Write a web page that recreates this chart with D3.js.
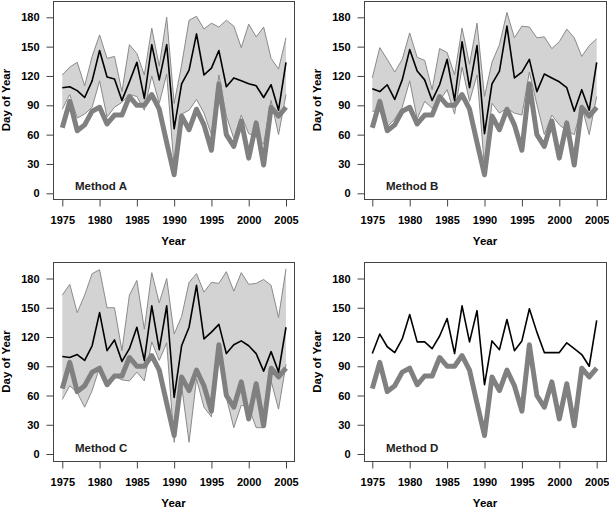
<!DOCTYPE html>
<html>
<head>
<meta charset="utf-8">
<script src="https://cdn.jsdelivr.net/npm/d3@7"></script>
<style>
  html, body { margin: 0; padding: 0; background: #fff; }
  svg { display: block; font-family: "Liberation Sans", Arial, sans-serif; }
</style>
</head>
<body>
<svg id="chart" width="609" height="508"></svg>
<script>
const years = [1975,1976,1977,1978,1979,1980,1981,1982,1983,1984,1985,1986,1987,1988,1989,1990,
               1991,1992,1993,1994,1995,1996,1997,1998,1999,2000,2001,2002,2003,2004,2005];
const xTicks = [1975,1980,1985,1990,1995,2000,2005];
const yTicks = [0,30,60,90,120,150,180];

const observed = [67,94,64,70,84,88,71,80,80,99,90,90,101,86,52,19,79,65,86,70,44,112,60,48,74,36,72,29,88,79,88];

const predA  = [108,109,105,98,115,146,119,117,95,114,134,97,152,116,152,66,112,126,163,121,128,146,109,118,115,112,110,98,111,85,134];
const upperA = [121,129,134,110,140,162,138,140,104,152,143,121,169,130,180,92,131,177,181,168,174,170,177,171,149,173,160,170,138,127,159];
const lowerA = [86,101,77,81,88,115,78,88,93,101,99,85,120,92,122,27,81,85,96,82,60,121,79,56,80,61,58,50,95,60,101];

const predB  = [107,104,111,96,116,147,125,116,95,111,137,95,155,108,151,61,112,125,171,118,124,137,104,122,118,114,108,84,106,85,134];
const upperB = [118,149,137,124,137,164,139,136,106,148,144,121,169,132,174,99,134,152,185,159,171,170,159,160,148,155,168,159,140,151,158];
const lowerB = [84,84,68,76,88,115,76,94,87,95,106,81,129,94,121,27,92,82,87,82,80,124,91,60,80,70,64,60,89,60,99];

const predC  = [100,99,102,96,111,145,106,117,95,108,130,96,152,107,152,58,111,130,173,118,125,133,103,112,116,111,103,85,105,84,130];
const upperC = [163,174,145,163,185,189,150,150,106,163,178,128,186,155,180,123,141,176,185,166,176,175,187,167,186,174,175,179,173,140,190];
const lowerC = [56,70,63,48,65,89,72,80,76,75,84,75,115,96,114,12,70,12,77,48,38,103,58,27,50,48,27,27,75,46,92];

const predD  = [103,123,110,104,118,143,115,115,108,121,139,103,152,115,147,71,116,107,138,106,116,149,125,104,104,104,114,108,102,90,137];

const panels = [
  {label: "Method A", pred: predA, upper: upperA, lower: lowerA,
   box: [53, 1, 294, 199], xr: [62.3, 286], yr: [193.3, 17.3]},
  {label: "Method B", pred: predB, upper: upperB, lower: lowerB,
   box: [364, 1, 606, 199], xr: [372.3, 596.7], yr: [193.3, 17.3]},
  {label: "Method C", pred: predC, upper: upperC, lower: lowerC,
   box: [53, 262, 294, 461], xr: [62.3, 286], yr: [454, 278.5]},
  {label: "Method D", pred: predD, upper: null, lower: null,
   box: [364, 262, 606, 461], xr: [372.3, 596.7], yr: [454, 278.5]}
];

const svg = d3.select("#chart");
const axisColor = "#444";

panels.forEach(p => {
  const [x0, y0, x1, y1] = p.box;
  const x = d3.scaleLinear().domain([1975, 2005]).range(p.xr);
  const y = d3.scaleLinear().domain([0, 180]).range(p.yr);
  const g = svg.append("g");

  // uncertainty band
  if (p.upper) {
    const band = d3.area()
      .x((d, i) => x(years[i]))
      .y0((d, i) => y(p.lower[i]))
      .y1((d, i) => y(p.upper[i]));
    g.append("path").datum(years).attr("d", band)
      .attr("fill", "#d3d3d3").attr("stroke", "none");
    const ln = arr => d3.line().x((d, i) => x(years[i])).y((d, i) => y(arr[i]));
    g.append("path").datum(years).attr("d", ln(p.upper))
      .attr("fill", "none").attr("stroke", "#8a8a8a").attr("stroke-width", 1);
    g.append("path").datum(years).attr("d", ln(p.lower))
      .attr("fill", "none").attr("stroke", "#8a8a8a").attr("stroke-width", 1);
  }

  // observed (thick gray)
  g.append("path").datum(observed)
    .attr("d", d3.line().x((d, i) => x(years[i])).y(d => y(d)))
    .attr("fill", "none").attr("stroke", "#808080").attr("stroke-width", 5)
    .attr("stroke-linejoin", "round");

  // predicted (black)
  g.append("path").datum(p.pred)
    .attr("d", d3.line().x((d, i) => x(years[i])).y(d => y(d)))
    .attr("fill", "none").attr("stroke", "#000").attr("stroke-width", 1.6)
    .attr("stroke-linejoin", "round");

  // box
  g.append("rect").attr("x", x0 + 0.5).attr("y", y0 + 0.5)
    .attr("width", x1 - x0).attr("height", y1 - y0)
    .attr("fill", "none").attr("stroke", axisColor).attr("stroke-width", 1);

  // y axis
  const ya = g.append("g").attr("transform", `translate(${x0 + 0.5},0)`)
    .call(d3.axisLeft(y).tickValues(yTicks).tickSize(7).tickPadding(7).tickFormat(d3.format("d")));
  ya.select(".domain").remove();
  ya.selectAll("line").attr("stroke", axisColor);
  ya.selectAll("text").attr("font-size", "11px").attr("font-weight", "bold")
    .attr("fill", "#000").attr("font-family", "Liberation Sans, Arial, sans-serif");

  // x axis
  const xa = g.append("g").attr("transform", `translate(0,${y1 + 0.5})`)
    .call(d3.axisBottom(x).tickValues(xTicks).tickSize(7).tickPadding(10).tickFormat(d3.format("d")));
  xa.select(".domain").remove();
  xa.selectAll("line").attr("stroke", axisColor);
  xa.selectAll("text").attr("font-size", "11px").attr("font-weight", "bold")
    .attr("fill", "#000").attr("font-family", "Liberation Sans, Arial, sans-serif");

  // axis titles
  g.append("text").attr("x", (x0 + x1) / 2).attr("y", y1 + 43)
    .attr("text-anchor", "middle").attr("dominant-baseline", "middle")
    .attr("font-size", "11.5px").attr("font-weight", "bold").text("Year");
  g.append("text")
    .attr("transform", `translate(${x0 - 46},${(y0 + y1) / 2}) rotate(-90)`)
    .attr("text-anchor", "middle").attr("dominant-baseline", "middle")
    .attr("font-size", "11.5px").attr("font-weight", "bold").text("Day of Year");

  // method label
  g.append("text").attr("x", x0 + 22).attr("y", y1 - 12)
    .attr("dominant-baseline", "middle")
    .attr("font-size", "11.5px").attr("font-weight", "bold").attr("fill", "#222")
    .text(p.label);
});
</script>
</body>
</html>
